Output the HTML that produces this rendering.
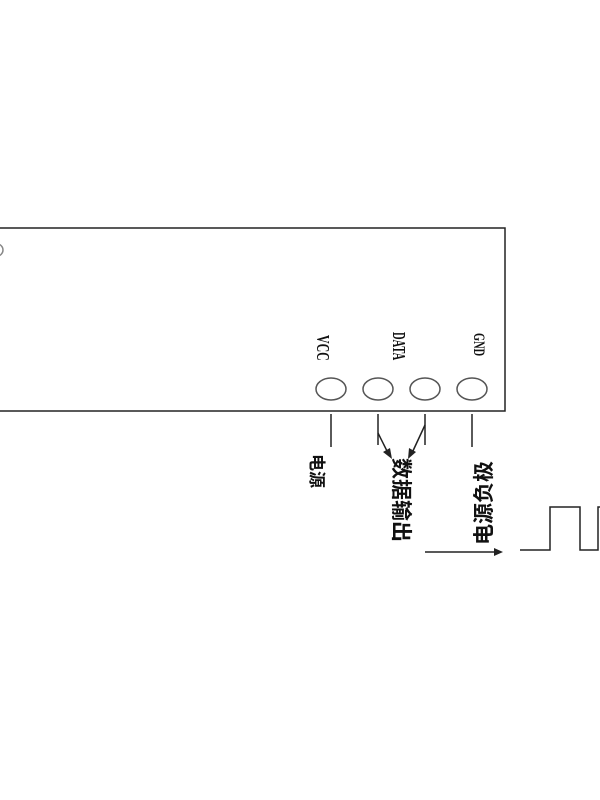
<!DOCTYPE html>
<html><head><meta charset="utf-8"><style>
body{margin:0;background:#fff;width:600px;height:800px;overflow:hidden}
</style></head><body>
<svg width="600" height="800" xmlns="http://www.w3.org/2000/svg" style="display:block">
<g fill="none" stroke="#222" stroke-width="1.5">
<rect x="-5" y="228" width="510" height="183"/>
<circle cx="-3" cy="250" r="6" stroke="#888"/>
<ellipse cx="331" cy="389" rx="15" ry="11" stroke="#555"/>
<ellipse cx="378" cy="389" rx="15" ry="11" stroke="#555"/>
<ellipse cx="425" cy="389" rx="15" ry="11" stroke="#555"/>
<ellipse cx="472" cy="389" rx="15" ry="11" stroke="#555"/>
<line x1="331" y1="414" x2="331" y2="447"/>
<line x1="378" y1="414" x2="378" y2="445"/>
<line x1="378" y1="433" x2="388" y2="453"/>
<line x1="425" y1="414" x2="425" y2="445"/>
<line x1="425" y1="425" x2="412" y2="453"/>
<line x1="472" y1="414" x2="472" y2="447"/>
<line x1="425" y1="552" x2="496" y2="552"/>
<polyline points="520,550 550,550 550,507 580,507 580,550 598,550 598,507 602,507"/>
</g>
<g fill="#222">
<polygon points="392,459 383,452 390,448"/>
<polygon points="408,459 409,448 416,452"/>
<polygon points="503,552 494,548 494,556"/>
</g>
<g font-family="Liberation Sans, Noto Sans CJK SC, sans-serif" font-weight="bold" fill="#111">
<text transform="translate(317,335) rotate(90) scale(0.85,1.25)" font-size="14" font-family="Liberation Serif, serif">VCC</text>
<text transform="translate(393,332) rotate(90) scale(0.75,1.25)" font-size="14" font-family="Liberation Serif, serif">DATA</text>
<text transform="translate(474,333) rotate(90) scale(0.8,1.25)" font-size="13" font-family="Liberation Serif, serif">GND</text>
<text transform="translate(311,454) rotate(90)" font-size="17">电源</text>
<text transform="translate(394,458) rotate(90)" font-size="21">数据输出</text>
<text transform="translate(491,545) rotate(-90)" font-size="21">电源负极</text>
</g>
</svg>
</body></html>
